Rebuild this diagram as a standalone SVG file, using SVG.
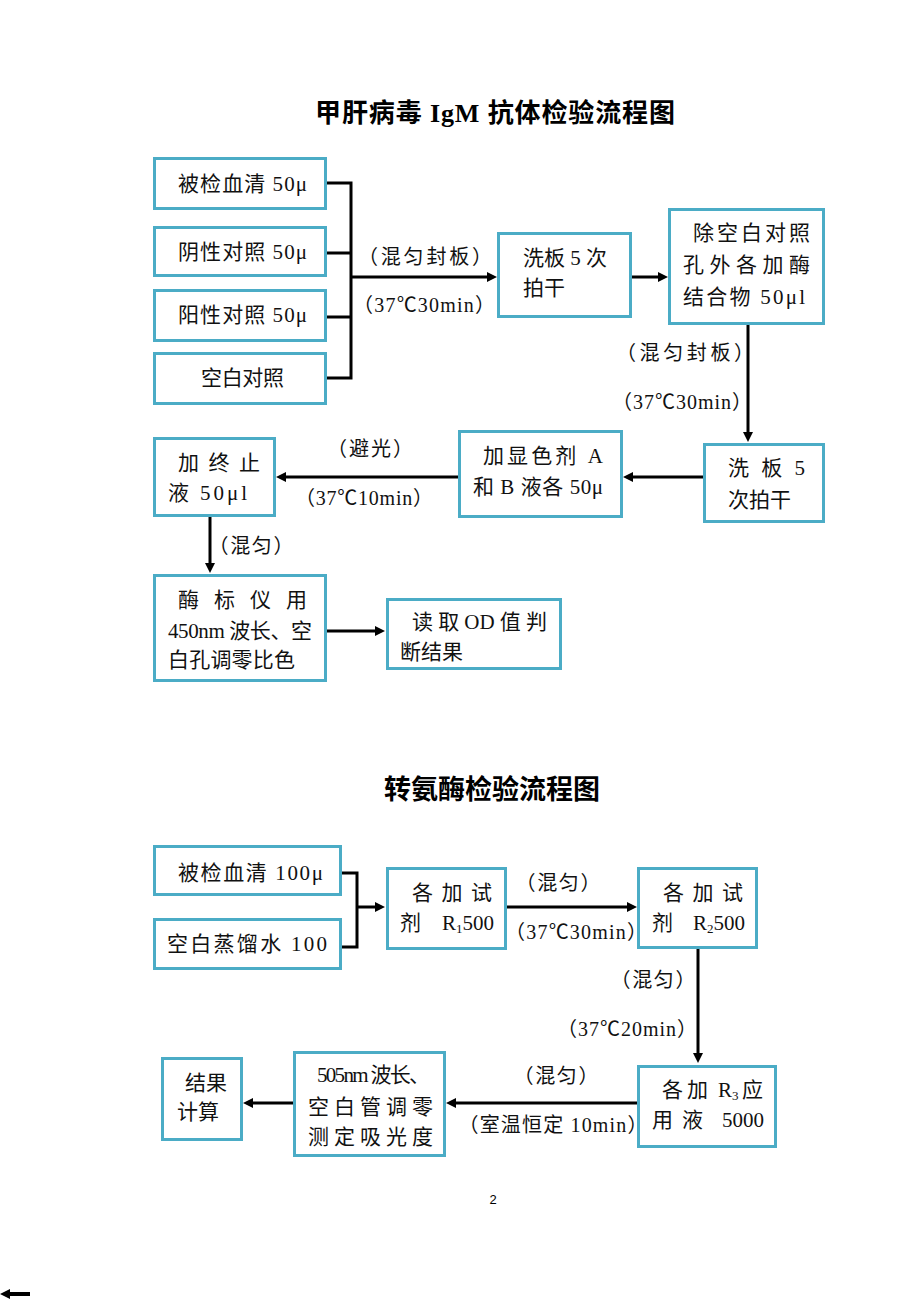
<svg xmlns="http://www.w3.org/2000/svg" width="920" height="1302" viewBox="0 0 920 1302">
<style>
.bg{fill:#ffffff}
.box{fill:#ffffff;stroke:#4BACC6;stroke-width:3}
.t{font-family:"Liberation Serif","Noto Sans CJK SC",serif;font-size:21px;fill:#111;dominant-baseline:central}
.lb{font-family:"Liberation Serif","Noto Sans CJK SC",serif;font-size:20px;fill:#111;dominant-baseline:central;text-anchor:middle}
.title{font-family:"Liberation Serif","Noto Sans CJK SC",sans-serif;font-size:26px;font-weight:bold;fill:#000;dominant-baseline:central;text-anchor:middle}
.ln{fill:none;stroke:#000;stroke-width:3}
.ar{fill:none;stroke:#000;stroke-width:3;marker-end:url(#ah)}
.sub{font-size:13px}
.pg{font-family:"Liberation Sans",sans-serif;font-size:13px;fill:#000;text-anchor:middle;dominant-baseline:central}
</style>
<defs>
<marker id="ah" markerUnits="userSpaceOnUse" markerWidth="10" markerHeight="10" refX="6" refY="5" orient="auto">
<path d="M0,0 L10,5 L0,10 z" fill="#000"/>
</marker>
</defs>
<rect class="bg" x="0" y="0" width="920" height="1302"/>

<text class="title" x="495" y="113" textLength="360" lengthAdjust="spacing">甲肝病毒 IgM 抗体检验流程图</text>
<text class="title" x="492" y="790" style="font-size:27px">转氨酶检验流程图</text>

<g id="connectors">
<path class="ln" d="M327,183 H351 V378 H327 M327,253 H351 M327,317 H351"/>
<path class="ar" d="M351,277 H493"/>
<path class="ar" d="M631,277 H664"/>
<path class="ar" d="M748,324 V438"/>
<path class="ar" d="M703,477 H627"/>
<path class="ar" d="M458,477 H280"/>
<path class="ar" d="M210,517 V569"/>
<path class="ar" d="M327,631 H381"/>
<path class="ln" d="M342,873 H357 V947 H342"/>
<path class="ar" d="M357,907 H381"/>
<path class="ar" d="M506,907 H633"/>
<path class="ar" d="M698,949 V1059"/>
<path class="ar" d="M637,1103 H450"/>
<path class="ar" d="M293,1103 H247"/>
<path class="ar" d="M30,1294 H4" style="stroke-width:4"/>
<text class="lb" x="425" y="257" textLength="134" lengthAdjust="spacing">（混匀封板）</text>
<text class="lb" x="424" y="305" textLength="142" lengthAdjust="spacing">（37℃30min）</text>
<text class="lb" x="685" y="353" textLength="138" lengthAdjust="spacing">（混匀封板）</text>
<text class="lb" x="682" y="402" textLength="140" lengthAdjust="spacing">（37℃30min）</text>
<text class="lb" x="370" y="449" textLength="86" lengthAdjust="spacing">（避光）</text>
<text class="lb" x="364" y="498" textLength="138" lengthAdjust="spacing">（37℃10min）</text>
<text class="lb" x="251" y="546" textLength="85" lengthAdjust="spacing">（混匀）</text>
<text class="lb" x="558" y="883" textLength="85" lengthAdjust="spacing">（混匀）</text>
<text class="lb" x="576" y="932" textLength="142" lengthAdjust="spacing">（37℃30min）</text>
<text class="lb" x="653" y="980" textLength="85" lengthAdjust="spacing">（混匀）</text>
<text class="lb" x="627" y="1029" textLength="140" lengthAdjust="spacing">（37℃20min）</text>
<text class="lb" x="556" y="1076" textLength="85" lengthAdjust="spacing">（混匀）</text>
<text class="lb" x="553" y="1125" textLength="189" lengthAdjust="spacing">（室温恒定 10min）</text>
</g>

<g id="b1"><rect class="box" x="154.5" y="158.5" width="171" height="50"/><text class="t" x="178" y="184" textLength="129" lengthAdjust="spacing">被检血清 50μ</text></g>
<g id="b2"><rect class="box" x="154.5" y="227.5" width="171" height="48"/><text class="t" x="178" y="252" textLength="129" lengthAdjust="spacing">阴性对照 50μ</text></g>
<g id="b3"><rect class="box" x="154.5" y="290.5" width="171" height="50"/><text class="t" x="178" y="315" textLength="129" lengthAdjust="spacing">阳性对照 50μ</text></g>
<g id="b4"><rect class="box" x="154.5" y="353.5" width="171" height="50"/><text class="t" x="201" y="378" textLength="83" lengthAdjust="spacing">空白对照</text></g>
<g id="b5"><rect class="box" x="498.5" y="233.5" width="132" height="83"/><text class="t" x="523" y="258" textLength="84" lengthAdjust="spacing">洗板 5 次</text><text class="t" x="523" y="288">拍干</text></g>
<g id="b6"><rect class="box" x="669.5" y="209.5" width="154" height="114"/><text class="t" x="693" y="233" textLength="117" lengthAdjust="spacing">除空白对照</text><text class="t" x="683" y="265" textLength="127" lengthAdjust="spacing">孔外各加酶</text><text class="t" x="683" y="297" textLength="122" lengthAdjust="spacing">结合物 50μl</text></g>
<g id="b7"><rect class="box" x="704.5" y="444.5" width="119" height="77"/><text class="t" x="728" y="468" textLength="77" lengthAdjust="spacing">洗 板 5</text><text class="t" x="728" y="500">次拍干</text></g>
<g id="b8"><rect class="box" x="459.5" y="431.5" width="162" height="85"/><text class="t" x="483" y="456" textLength="120" lengthAdjust="spacing">加显色剂 A</text><text class="t" x="473" y="487" textLength="130" lengthAdjust="spacing">和 B 液各 50μ</text></g>
<g id="b9"><rect class="box" x="154.5" y="438.5" width="120" height="77"/><text class="t" x="178" y="463" textLength="82" lengthAdjust="spacing">加 终 止</text><text class="t" x="168" y="493" textLength="79" lengthAdjust="spacing">液 50μl</text></g>
<g id="b10"><rect class="box" x="154.5" y="575.5" width="171" height="105"/><text class="t" x="178" y="600" textLength="129" lengthAdjust="spacing">酶 标 仪 用</text><text class="t" x="168" y="631" textLength="144" lengthAdjust="spacing">450nm 波长、空</text><text class="t" x="168" y="660" textLength="127" lengthAdjust="spacing">白孔调零比色</text></g>
<g id="b11"><rect class="box" x="387.5" y="599.5" width="173" height="69"/><text class="t" x="412" y="622" textLength="135" lengthAdjust="spacing">读 取 OD 值 判</text><text class="t" x="400" y="652">断结果</text></g>

<g id="c1"><rect class="box" x="154.5" y="846.5" width="186" height="48"/><text class="t" x="178" y="873" textLength="145" lengthAdjust="spacing">被检血清 100μ</text></g>
<g id="c2"><rect class="box" x="154.5" y="919.5" width="186" height="49"/><text class="t" x="167" y="944" textLength="160" lengthAdjust="spacing">空白蒸馏水 100</text></g>
<g id="c3"><rect class="box" x="387.5" y="868.5" width="118" height="80"/><text class="t" x="412" y="893" textLength="80" lengthAdjust="spacing">各 加 试</text><text class="t" x="400" y="923">剂</text><text class="t" x="442" y="923">R<tspan class="sub" dy="5">1</tspan><tspan dy="-5">500</tspan></text></g>
<g id="c4"><rect class="box" x="638.5" y="868.5" width="118" height="79"/><text class="t" x="663" y="893" textLength="80" lengthAdjust="spacing">各 加 试</text><text class="t" x="652" y="923">剂</text><text class="t" x="693" y="923">R<tspan class="sub" dy="5">2</tspan><tspan dy="-5">500</tspan></text></g>
<g id="c5"><rect class="box" x="638.5" y="1066.5" width="137" height="80"/><text class="t" y="1090"><tspan x="662">各</tspan><tspan x="687">加</tspan><tspan x="718">R</tspan><tspan class="sub" dy="5">3</tspan><tspan x="742" dy="-5">应</tspan></text><text class="t" y="1120"><tspan x="652">用</tspan><tspan x="682">液</tspan><tspan x="722">5000</tspan></text></g>
<g id="c6"><rect class="box" x="294.5" y="1052.5" width="150" height="103"/><text class="t" x="317" y="1075" textLength="113" lengthAdjust="spacing">505nm 波长、</text><text class="t" x="308" y="1107" textLength="125" lengthAdjust="spacing">空 白 管 调 零</text><text class="t" x="308" y="1137" textLength="125" lengthAdjust="spacing">测 定 吸 光 度</text></g>
<g id="c7"><rect class="box" x="162.5" y="1058.5" width="79" height="81"/><text class="t" x="185" y="1083">结果</text><text class="t" x="177" y="1112">计算</text></g>

<text class="pg" x="493" y="1199">2</text>
</svg>
